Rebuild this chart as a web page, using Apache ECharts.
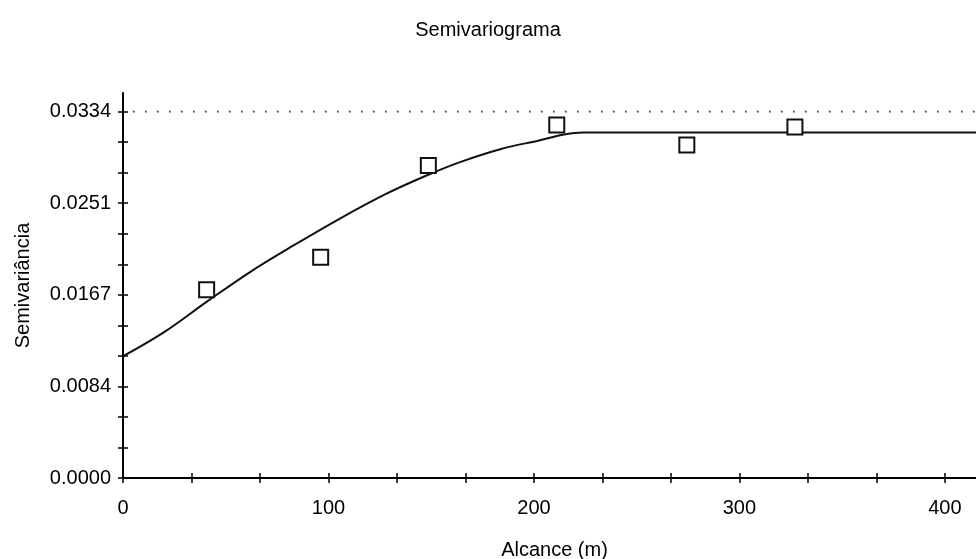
<!DOCTYPE html>
<html>
<head>
<meta charset="utf-8">
<script src="https://cdn.jsdelivr.net/npm/echarts@6/dist/echarts.min.js"></script>
<style>
  html, body { margin: 0; padding: 0; background: #fff; }
  #chart { width: 976px; height: 559px; }
</style>
</head>
<body>
<div id="chart"></div>
<script>
// Experimental semivariance (lag distance in metres)
const lagDistance = [40.7, 96.2, 148.6, 211.1, 274.4, 327.0];
const semivariance = [0.01716, 0.02013, 0.02848, 0.03219, 0.03037, 0.03201];

// Fitted model curve
const modelDistance = [0, 20, 41, 62, 83, 106, 128, 148, 164, 184, 203, 214, 224, 420];
const modelValue = [0.0111, 0.0133, 0.0161, 0.0188, 0.0212, 0.0237, 0.0259, 0.0276, 0.0288, 0.0300, 0.0308, 0.0313, 0.0315, 0.0315];

// Total variance reference (dotted)
const totalVariance = 0.0334;

// Axis ticks and labels
const xLabelValues = [0, 100, 200, 300, 400];
const yLabelValues = [0, 0.00835, 0.0167, 0.02505, 0.0334];
const yLabelText = ['0.0000', '0.0084', '0.0167', '0.0251', '0.0334'];

const X_MAX = 420;
const Y_MAX = 0.0351;
const FONT = "'Liberation Sans', Arial, sans-serif";

// three tick steps between consecutive labels
function withThirds(values) {
  const out = [];
  for (let i = 0; i < values.length - 1; i++) {
    const a = values[i], b = values[i + 1];
    out.push(a, a + (b - a) / 3, a + 2 * (b - a) / 3);
  }
  out.push(values[values.length - 1]);
  return out;
}
const xTickValues = withThirds(xLabelValues);
const yTickValues = withThirds(yLabelValues);

function yLabel(v) {
  let best = 0;
  for (let i = 1; i < yLabelValues.length; i++) {
    if (Math.abs(yLabelValues[i] - v) < Math.abs(yLabelValues[best] - v)) best = i;
  }
  return yLabelText[best];
}

const axisLineStyle = { color: '#000', width: 2 };

function xAxisDef(primary) {
  return {
    type: 'value', min: 0, max: X_MAX, position: 'bottom',
    axisLine: { show: primary, onZero: false, lineStyle: axisLineStyle },
    axisTick: { show: true, inside: !primary, length: 5, customValues: xTickValues,
                lineStyle: { color: '#000', width: 1.5 } },
    axisLabel: primary ? { show: true, customValues: xLabelValues, margin: 20,
                fontSize: 20, color: '#000', fontFamily: FONT } : { show: false },
    splitLine: { show: false },
    name: primary ? 'Alcance (m)' : '',
    nameLocation: 'middle', nameGap: 62,
    nameTextStyle: { fontSize: 20, color: '#000', fontFamily: FONT }
  };
}
function yAxisDef(primary) {
  return {
    type: 'value', min: 0, max: Y_MAX, position: 'left',
    axisLine: { show: primary, onZero: false, lineStyle: axisLineStyle },
    axisTick: { show: true, inside: !primary, length: 5, customValues: yTickValues,
                lineStyle: { color: '#000', width: 1.5 } },
    axisLabel: primary ? { show: true, customValues: yLabelValues, margin: 12,
                formatter: yLabel, fontSize: 20, color: '#000', fontFamily: FONT } : { show: false },
    splitLine: { show: false },
    name: primary ? 'Semivariância' : '',
    nameLocation: 'middle', nameGap: 90, nameRotate: 90,
    nameTextStyle: { fontSize: 20, color: '#000', fontFamily: FONT }
  };
}

const chart = echarts.init(document.getElementById('chart'), null, { renderer: 'canvas' });
chart.setOption({
  animation: false,
  backgroundColor: '#fff',
  title: {
    text: 'Semivariograma', left: 'center', top: 15,
    textStyle: { fontSize: 20, fontWeight: 'normal', color: '#000', fontFamily: FONT }
  },
  grid: { left: 123, right: -10, top: 93, bottom: 81, containLabel: false, outerBoundsMode: 'none' },
  xAxis: [xAxisDef(true), xAxisDef(false)],
  yAxis: [yAxisDef(true), yAxisDef(false)],
  series: [
    {
      // dotted total-variance line
      type: 'line', xAxisIndex: 0, yAxisIndex: 0,
      data: [[0, totalVariance], [X_MAX, totalVariance]],
      showSymbol: false, silent: true,
      lineStyle: { color: '#333', width: 1.6, type: [1.6, 10.4], dashOffset: -10 },
      z: 1
    },
    {
      type: 'line', xAxisIndex: 0, yAxisIndex: 0,
      data: modelDistance.map((d, i) => [d, modelValue[i]]),
      showSymbol: false, smooth: 0.35,
      lineStyle: { color: '#111', width: 2 },
      z: 2
    },
    {
      type: 'scatter', xAxisIndex: 0, yAxisIndex: 0,
      data: lagDistance.map((d, i) => [d, semivariance[i]]),
      symbol: 'rect', symbolSize: 15,
      itemStyle: { color: '#fff', borderColor: '#111', borderWidth: 2, opacity: 1 },
      z: 3
    }
  ]
});
</script>
</body>
</html>
